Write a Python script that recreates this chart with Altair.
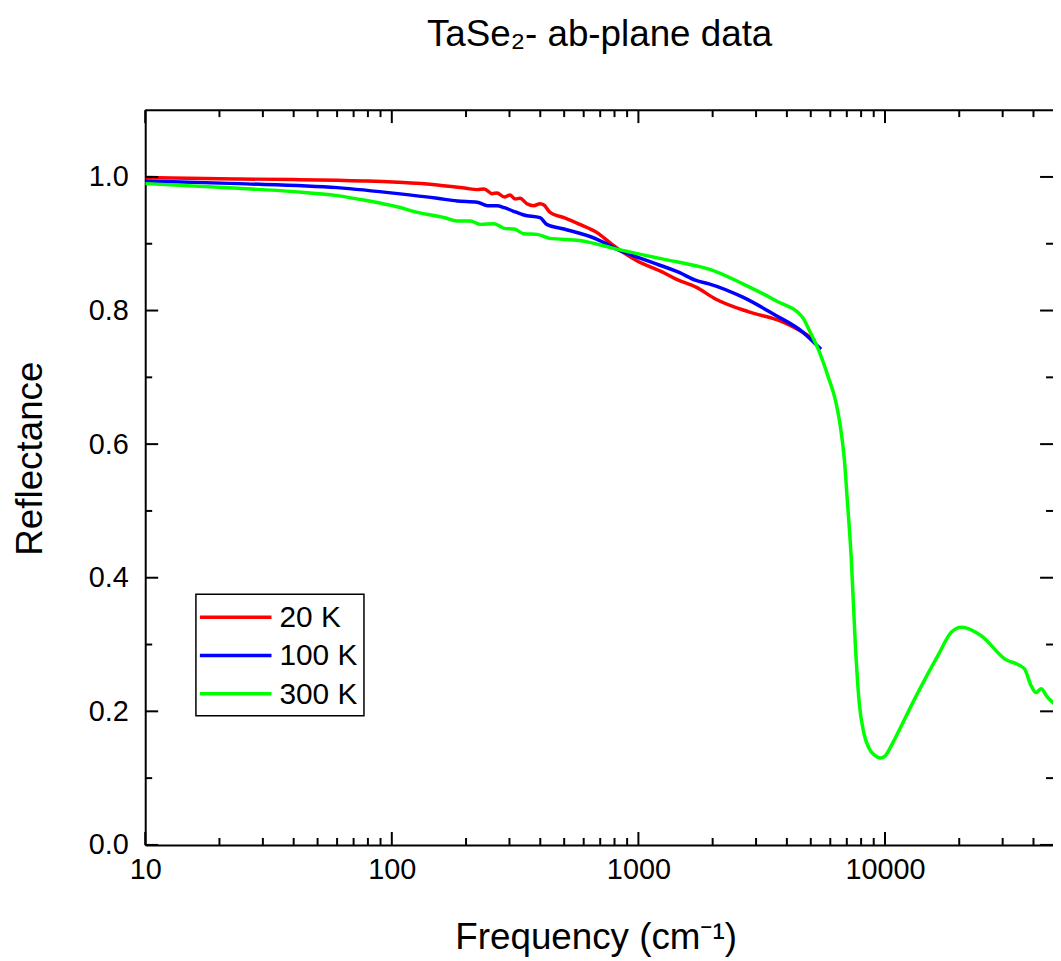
import altair as alt
import pandas as pd

# ---------------- data ----------------
freq_20K = [10, 15, 24, 40, 60, 80, 106, 153, 200, 222, 237, 255, 267, 286, 302, 316, 331,
            353, 377, 399, 414, 438, 499, 578, 677, 764, 830, 981, 1262, 1422, 1713, 2063,
            2803, 3843, 4893, 5200]
R_20K = [0.999, 0.998, 0.997, 0.996, 0.995, 0.994, 0.992, 0.988, 0.983, 0.981, 0.982, 0.975,
         0.976, 0.970, 0.973, 0.967, 0.968, 0.960, 0.957, 0.960, 0.958, 0.947, 0.939, 0.929,
         0.917, 0.902, 0.892, 0.875, 0.857, 0.847, 0.835, 0.817, 0.798, 0.783, 0.762, 0.755]

freq_100K = [10, 24, 60, 106, 153, 184, 222, 245, 267, 286, 310, 343, 399, 425, 499, 677,
             817, 1077, 1463, 1713, 1932, 2650, 3597, 4628, 5224, 5500]
R_100K = [0.994, 0.990, 0.984, 0.975, 0.968, 0.964, 0.962, 0.957, 0.957, 0.954, 0.949, 0.943,
          0.939, 0.929, 0.922, 0.907, 0.892, 0.875, 0.857, 0.845, 0.840, 0.820, 0.793, 0.768,
          0.750, 0.742]

freq_300K = [10, 24, 40, 60, 78, 106, 127, 164, 184, 208, 229, 260, 286, 313, 343, 388, 438,
             578, 817, 1262, 1713, 1932, 2650, 3597, 4628, 4893, 5375, 5892, 6300, 6600, 6850,
             7030, 7300, 7580, 7850, 8200, 8600, 9100, 9550, 10000, 10480, 10970, 13210, 16360,
             18640, 20430, 24590, 30460, 36700, 39170, 41020, 42940, 45390, 48980]
R_300K = [0.990, 0.983, 0.978, 0.972, 0.965, 0.955, 0.947, 0.939, 0.934, 0.934, 0.929, 0.930,
          0.923, 0.922, 0.915, 0.914, 0.908, 0.905, 0.892, 0.877, 0.867, 0.862, 0.840, 0.815,
          0.790, 0.773, 0.741, 0.700, 0.665, 0.625, 0.575, 0.517, 0.428, 0.300, 0.215, 0.168,
          0.145, 0.134, 0.130, 0.133, 0.145, 0.159, 0.219, 0.283, 0.319, 0.326, 0.313, 0.279,
          0.264, 0.238, 0.228, 0.234, 0.222, 0.210]

series_labels = ["20 K", "100 K", "300 K"]
series_colors = ["#ff0000", "#0000ff", "#00ff00"]

x_major = [10, 100, 1000, 10000]
x_minor = [20, 30, 40, 50, 60, 70, 80, 90,
           200, 300, 400, 500, 600, 700, 800, 900,
           2000, 3000, 4000, 5000, 6000, 7000, 8000, 9000,
           20000, 30000, 40000]
y_major = [0.0, 0.2, 0.4, 0.6, 0.8, 1.0]
y_minor = [0.1, 0.3, 0.5, 0.7, 0.9]

chart_title = "TaSe₂- ab-plane data"
x_title = "Frequency (cm⁻¹)"
y_title = "Reflectance"

# ---------------- build table ----------------
rows = []
for lab, fs, rs in [("20 K", freq_20K, R_20K), ("100 K", freq_100K, R_100K),
                    ("300 K", freq_300K, R_300K)]:
    for f, r in zip(fs, rs):
        rows.append({"freq": f, "R": r, "T": lab})
df = pd.DataFrame(rows)

W, H = 913, 739
FONT = "Liberation Sans"
MAJ, MIN = 13, 7
LW = 3.5

xscale = alt.Scale(type="log", domain=[10, 48000], nice=False)
yscale = alt.Scale(domain=[0, 1.1], nice=False, zero=False)

lines = alt.Chart(df).mark_line(strokeWidth=LW, clip=True, interpolate="monotone").encode(
    x=alt.X("freq:Q", scale=xscale,
            axis=alt.Axis(values=x_major, format="d", title=x_title,
                          ticks=False, tickSize=0, grid=False, labelFontSize=29,
                          labelPadding=11, labelFont=FONT, labelColor="black",
                          titleFont=FONT, titleFontSize=37, titleFontWeight="normal",
                          titleColor="black", titleBaseline="alphabetic", titleAlign="center",
                          titleX=453, titleY=104, domainColor="black", domainWidth=2,
                          labelFlush=False)),
    y=alt.Y("R:Q", scale=yscale,
            axis=alt.Axis(values=y_major, format=".1f", title=y_title,
                          ticks=False, tickSize=0, grid=False, labelFontSize=29,
                          labelPadding=17, labelFont=FONT, labelColor="black",
                          titleFont=FONT, titleFontSize=37, titleFontWeight="normal",
                          titleColor="black", titleBaseline="alphabetic", titleAlign="center",
                          titleAngle=-90, titleX=-104, titleY=350,
                          domainColor="black", domainWidth=2, labelFlush=False)),
    color=alt.Color("T:N", sort=series_labels,
                    scale=alt.Scale(domain=series_labels, range=series_colors),
                    legend=None),
    detail="T:N",
)

def xticks(vals, y0, y1):
    return alt.Chart(pd.DataFrame({"freq": vals})).mark_rule(color="black", strokeWidth=2).encode(
        x=alt.X("freq:Q", scale=xscale), y=alt.value(y0), y2=alt.value(y1))

def yticks(vals, x0, x1):
    return alt.Chart(pd.DataFrame({"R": vals})).mark_rule(color="black", strokeWidth=2).encode(
        y=alt.Y("R:Q", scale=yscale), x=alt.value(x0), x2=alt.value(x1))

top_spine = alt.Chart(pd.DataFrame({"v": [0]})).mark_rule(color="black", strokeWidth=2).encode(
    x=alt.value(0), x2=alt.value(W), y=alt.value(0))

title_mark = alt.Chart(pd.DataFrame({"t": [chart_title]})).mark_text(
    font=FONT, fontSize=37, color="black", align="center", baseline="alphabetic"
).encode(text="t:N", x=alt.value(457), y=alt.value(-65))

# ----- legend (box, sample lines, labels) -----
LX0, LX1, LY0, LY1 = 51, 220, 487, 609
legend_box = alt.Chart(pd.DataFrame({"v": [0]})).mark_rect(
    fill="white", stroke="black", strokeWidth=1.5
).encode(x=alt.value(LX0), x2=alt.value(LX1), y=alt.value(LY0), y2=alt.value(LY1))

legend_layers = [legend_box]
for i, (lab, col) in enumerate(zip(series_labels, series_colors)):
    yy = 510 + i * 38.5
    d = pd.DataFrame({"t": [lab]})
    legend_layers.append(alt.Chart(d).mark_rule(color=col, strokeWidth=LW).encode(
        x=alt.value(55), x2=alt.value(127), y=alt.value(yy)))
    legend_layers.append(alt.Chart(d).mark_text(
        font=FONT, fontSize=30, color="black", align="left", baseline="middle"
    ).encode(text="t:N", x=alt.value(135), y=alt.value(yy + 1)))

chart = alt.layer(
    lines,
    xticks(x_major, H, H - MAJ), xticks(x_minor, H, H - MIN),
    xticks(x_major, 0, MAJ), xticks(x_minor, 0, MIN),
    yticks(y_major, 0, MAJ), yticks(y_minor, 0, MIN),
    yticks(y_major, W, W - MAJ), yticks(y_minor, W, W - MIN),
    top_spine, title_mark, *legend_layers,
).properties(
    width=W, height=H,
    autosize=alt.AutoSizeParams(type="none"),
    padding={"left": 138, "top": 100, "right": 0, "bottom": 112},
).configure_view(stroke=None).configure(background="white")

chart.save("out.html", embed_options={"renderer": "svg", "actions": False})
